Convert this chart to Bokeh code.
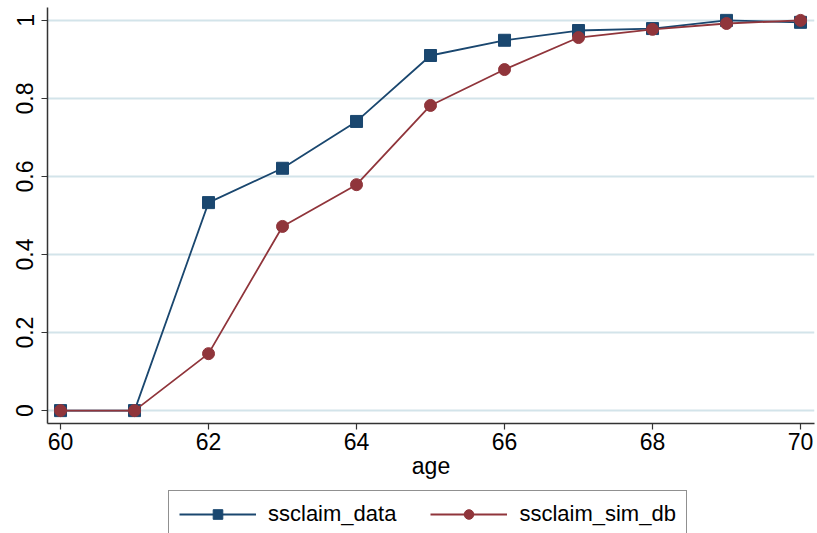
from bokeh.plotting import figure
from bokeh.layouts import column
from bokeh.models import Range1d, FixedTicker, CustomJSTickFormatter, Legend, LegendItem
from bokeh.embed import file_html
from bokeh.resources import INLINE

age = [60, 61, 62, 63, 64, 65, 66, 67, 68, 69, 70]
ssclaim_data = [0.0, 0.0, 0.533, 0.621, 0.741, 0.910, 0.949, 0.974, 0.979, 1.0, 0.995]
ssclaim_sim_db = [0.0, 0.0, 0.146, 0.472, 0.579, 0.782, 0.874, 0.956, 0.977, 0.992, 1.0]
x_ticks = [60, 62, 64, 66, 68, 70]
y_ticks = [0, 0.2, 0.4, 0.6, 0.8, 1]

BLUE = "#1a476f"
RED = "#90353b"
FONT = "Liberation Sans"
FS = "23px"

p = figure(width=817, height=485, output_backend="svg", toolbar_location=None,
           x_range=Range1d(59.824, 70.189), y_range=Range1d(-0.033, 1.033),
           min_border_left=47, min_border_right=3, min_border_top=7, min_border_bottom=62)
p.outline_line_color = None
p.background_fill_color = "white"
p.border_fill_color = "white"

p.xgrid.grid_line_color = None
p.ygrid.ticker = FixedTicker(ticks=y_ticks)
p.ygrid.grid_line_color = "#d3e4ea"
p.ygrid.grid_line_width = 2

for ax in (p.xaxis[0], p.yaxis[0]):
    ax.axis_line_color = "#333333"
    ax.axis_line_width = 1.5
    ax.major_tick_line_color = "#333333"
    ax.major_tick_line_width = 1.2
    ax.major_tick_out = 6
    ax.major_tick_in = 0
    ax.minor_tick_line_color = None
    ax.major_label_text_font = FONT
    ax.major_label_text_font_size = FS
    ax.major_label_text_color = "black"
    ax.major_label_standoff = 3

p.xaxis.ticker = FixedTicker(ticks=x_ticks)
p.yaxis.ticker = FixedTicker(ticks=y_ticks)
p.yaxis.formatter = CustomJSTickFormatter(code="return String(Math.round(tick*10)/10);")
p.yaxis.major_label_orientation = "vertical"
p.yaxis.major_label_standoff = 8
p.xaxis.axis_label = "age"
p.xaxis.axis_label_text_font = FONT
p.xaxis.axis_label_text_font_size = FS
p.xaxis.axis_label_text_font_style = "normal"
p.xaxis.axis_label_text_color = "black"
p.xaxis.axis_label_standoff = 0

p.line(age, ssclaim_data, line_color=BLUE, line_width=1.8)
p.scatter(age, ssclaim_data, marker="square", size=12, fill_color=BLUE, line_color=BLUE)
p.line(age, ssclaim_sim_db, line_color=RED, line_width=1.8)
p.scatter(age, ssclaim_sim_db, marker="circle", size=12, fill_color=RED, line_color=RED)

# legend strip: a figure without axes whose renderers lie outside its view
lg = figure(width=817, height=48, output_backend="svg", toolbar_location=None,
            x_range=Range1d(0, 1), y_range=Range1d(0, 1),
            x_axis_location=None, y_axis_location=None,
            min_border_left=0, min_border_right=0, min_border_top=0, min_border_bottom=0)
lg.grid.visible = False
lg.outline_line_color = None
lg.border_fill_color = "white"
l1 = lg.line(age, ssclaim_data, line_color=BLUE, line_width=1.8)
m1 = lg.scatter(age, ssclaim_data, marker="square", size=12, fill_color=BLUE, line_color=BLUE)
l2 = lg.line(age, ssclaim_sim_db, line_color=RED, line_width=1.8)
m2 = lg.scatter(age, ssclaim_sim_db, marker="circle", size=12, fill_color=RED, line_color=RED)

legend = Legend(items=[LegendItem(label="ssclaim_data", renderers=[l1, m1]),
                       LegendItem(label="ssclaim_sim_db", renderers=[l2, m2])],
                orientation="horizontal", location=(121, -5),
                label_text_font=FONT, label_text_font_size="22px", label_text_color="black",
                glyph_width=77, glyph_height=24, label_standoff=12, spacing=34,
                padding=10, margin=0,
                border_line_color="#222222", border_line_width=1.2,
                background_fill_alpha=1.0)
lg.add_layout(legend, "center")

layout = column(p, lg, spacing=0)
open("out.html", "w").write(file_html(layout, INLINE))
